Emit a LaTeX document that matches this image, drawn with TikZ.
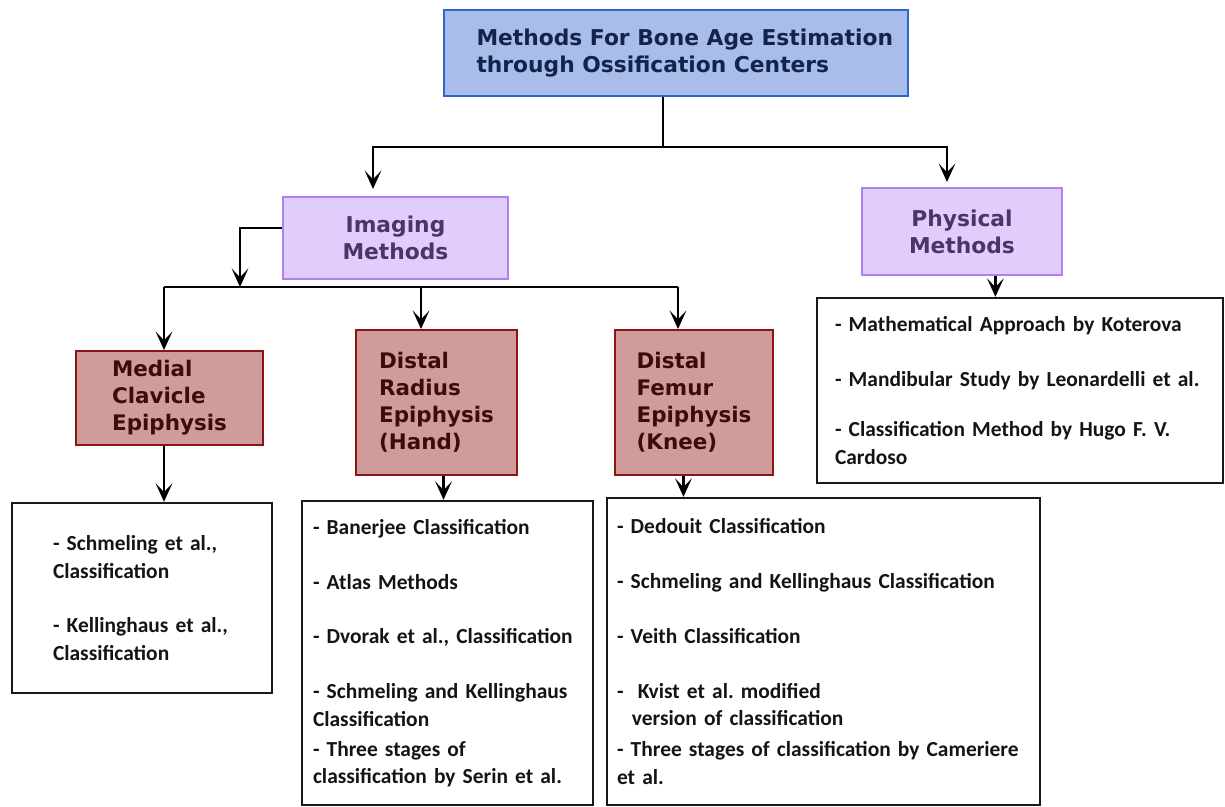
\documentclass[tikz,border=0pt]{standalone}
\usepackage{fontspec}
\setmainfont{Carlito}
\newfontfamily\headfont{DejaVu Sans}
\usetikzlibrary{arrows.meta}
\frenchspacing

\definecolor{topfill}{HTML}{A9BDEA}
\definecolor{topdraw}{HTML}{2F66CC}
\definecolor{toptext}{HTML}{14234A}
\definecolor{lilfill}{HTML}{E1CDFB}
\definecolor{lildraw}{HTML}{B27FF2}
\definecolor{liltext}{HTML}{4A3468}
\definecolor{redfill}{HTML}{D09B9B}
\definecolor{reddraw}{HTML}{8C1414}
\definecolor{redtext}{HTML}{3E0B0B}

\begin{document}
\begin{tikzpicture}[x=0.02cm,y=-0.02cm,
	headbox/.style={draw=topdraw,fill=topfill,line width=1.2pt,text=toptext,align=left,
		font=\headfont\bfseries\fontsize{12.4}{15.5}\selectfont},
	methbox/.style={draw=lildraw,fill=lilfill,line width=1.1pt,text=liltext,align=center,
		font=\headfont\bfseries\fontsize{12.4}{15.3}\selectfont},
	bonebox/.style={draw=reddraw,fill=redfill,line width=1.1pt,text=redtext,align=left,
		font=\headfont\bfseries\fontsize{12.2}{15.3}\selectfont},
	listbox/.style={draw=black!90,line width=1.4pt,align=left,inner ysep=0pt,text=black!92,
		font=\bfseries\fontsize{12.2}{15.6}\selectfont},
	arr/.style={line width=1.6pt,-{Stealth[length=10.5pt,width=9.5pt,inset=5pt]}},
	conn/.style={line width=1.6pt}]
	\useasboundingbox (0,0) rectangle (1225,807);

	\node[headbox,minimum width=9.28cm,minimum height=1.72cm] (top) at (676,53)
		{\hspace*{10pt}Methods For Bone Age Estimation\\\hspace*{10pt}through Ossification Centers};
	\node[methbox,minimum width=4.5cm,minimum height=1.64cm] (img) at (395.5,238) {Imaging\\Methods};
	\node[methbox,minimum width=4cm,minimum height=1.74cm] (phy) at (962,231.5) {Physical\\Methods};

	\node[bonebox,minimum width=3.74cm,minimum height=1.88cm] (med) at (169.5,398) {Medial\\Clavicle\\Epiphysis};
	\node[bonebox,minimum width=3.22cm,minimum height=2.9cm] (rad) at (436.5,402.5) {Distal\\Radius\\Epiphysis\\(Hand)};
	\node[bonebox,minimum width=3.16cm,minimum height=2.9cm] (fem) at (694,402.5) {Distal\\Femur\\Epiphysis\\(Knee)};

	\node[listbox,inner xsep=0.82cm,text width=3.56cm,minimum height=3.8cm] (medl) at (142,598)
		{- Schmeling et al.,\\Classification\\[15.6pt]- Kellinghaus et al.,\\Classification};
	\node[listbox,inner xsep=0.22cm,text width=5.38cm,minimum height=6.08cm] (radl) at (447.5,653)
		{- Banerjee Classification\\[15.6pt]- Atlas Methods\\[15.6pt]- Dvorak et al., Classification\\[15.6pt]%
		- Schmeling and Kellinghaus\\Classification\\[1.5pt]- Three stages of\\classification by Serin et al.};
	\node[listbox,inner xsep=0.2cm,text width=8.26cm,minimum height=6.14cm] (feml) at (823.5,651.5)
		{- Dedouit Classification\\[15.6pt]- Schmeling and Kellinghaus Classification\\[15.6pt]- Veith Classification\\[15.6pt]%
		-\ \ Kvist et al. modified\\\hspace*{8.5pt}version of classification\\[2pt]%
		- Three stages of classification by Cameriere\\et al.};
	\node[listbox,inner xsep=0.36cm,text width=7.4cm,minimum height=3.7cm] (phyl) at (1020,390.5)
		{- Mathematical Approach by Koterova\\[15.6pt]- Mandibular Study by Leonardelli et al.\\[13pt]%
		- Classification Method by Hugo F. V.\\Cardoso};

	\coordinate (jt) at (663,147);
	\coordinate (imgin) at (373,189);
	\coordinate (phyin) at (947,182);
	\coordinate (ibar) at (240,287);
	\coordinate (bl) at (164,287);
	\coordinate (bm) at (421,287);
	\coordinate (br) at (678,287);

	\draw[conn] (top.south -| jt) -- (jt);
	\draw[arr] (jt) -| (imgin);
	\draw[arr] (jt) -| (phyin);
	\draw[arr] (img.175) -| (ibar);
	\draw[conn] (bl) -- (br);
	\draw[arr] (bl) -- (bl |- med.north);
	\draw[arr] (bm) -- (bm |- rad.north);
	\draw[arr] (br) -- (br |- fem.north);

	\draw[arr] (bl |- med.south) -- (bl |- medl.north);
	\draw[arr] ([xshift=4pt]rad.south) -- ([xshift=4pt]rad.south |- radl.north);
	\draw[arr] ([xshift=-6pt]fem.south) -- ([xshift=-6pt]fem.south |- feml.north);
	\draw[arr] ([xshift=19pt]phy.south) -- ([xshift=19pt]phy.south |- phyl.north);
\end{tikzpicture}
\end{document}
